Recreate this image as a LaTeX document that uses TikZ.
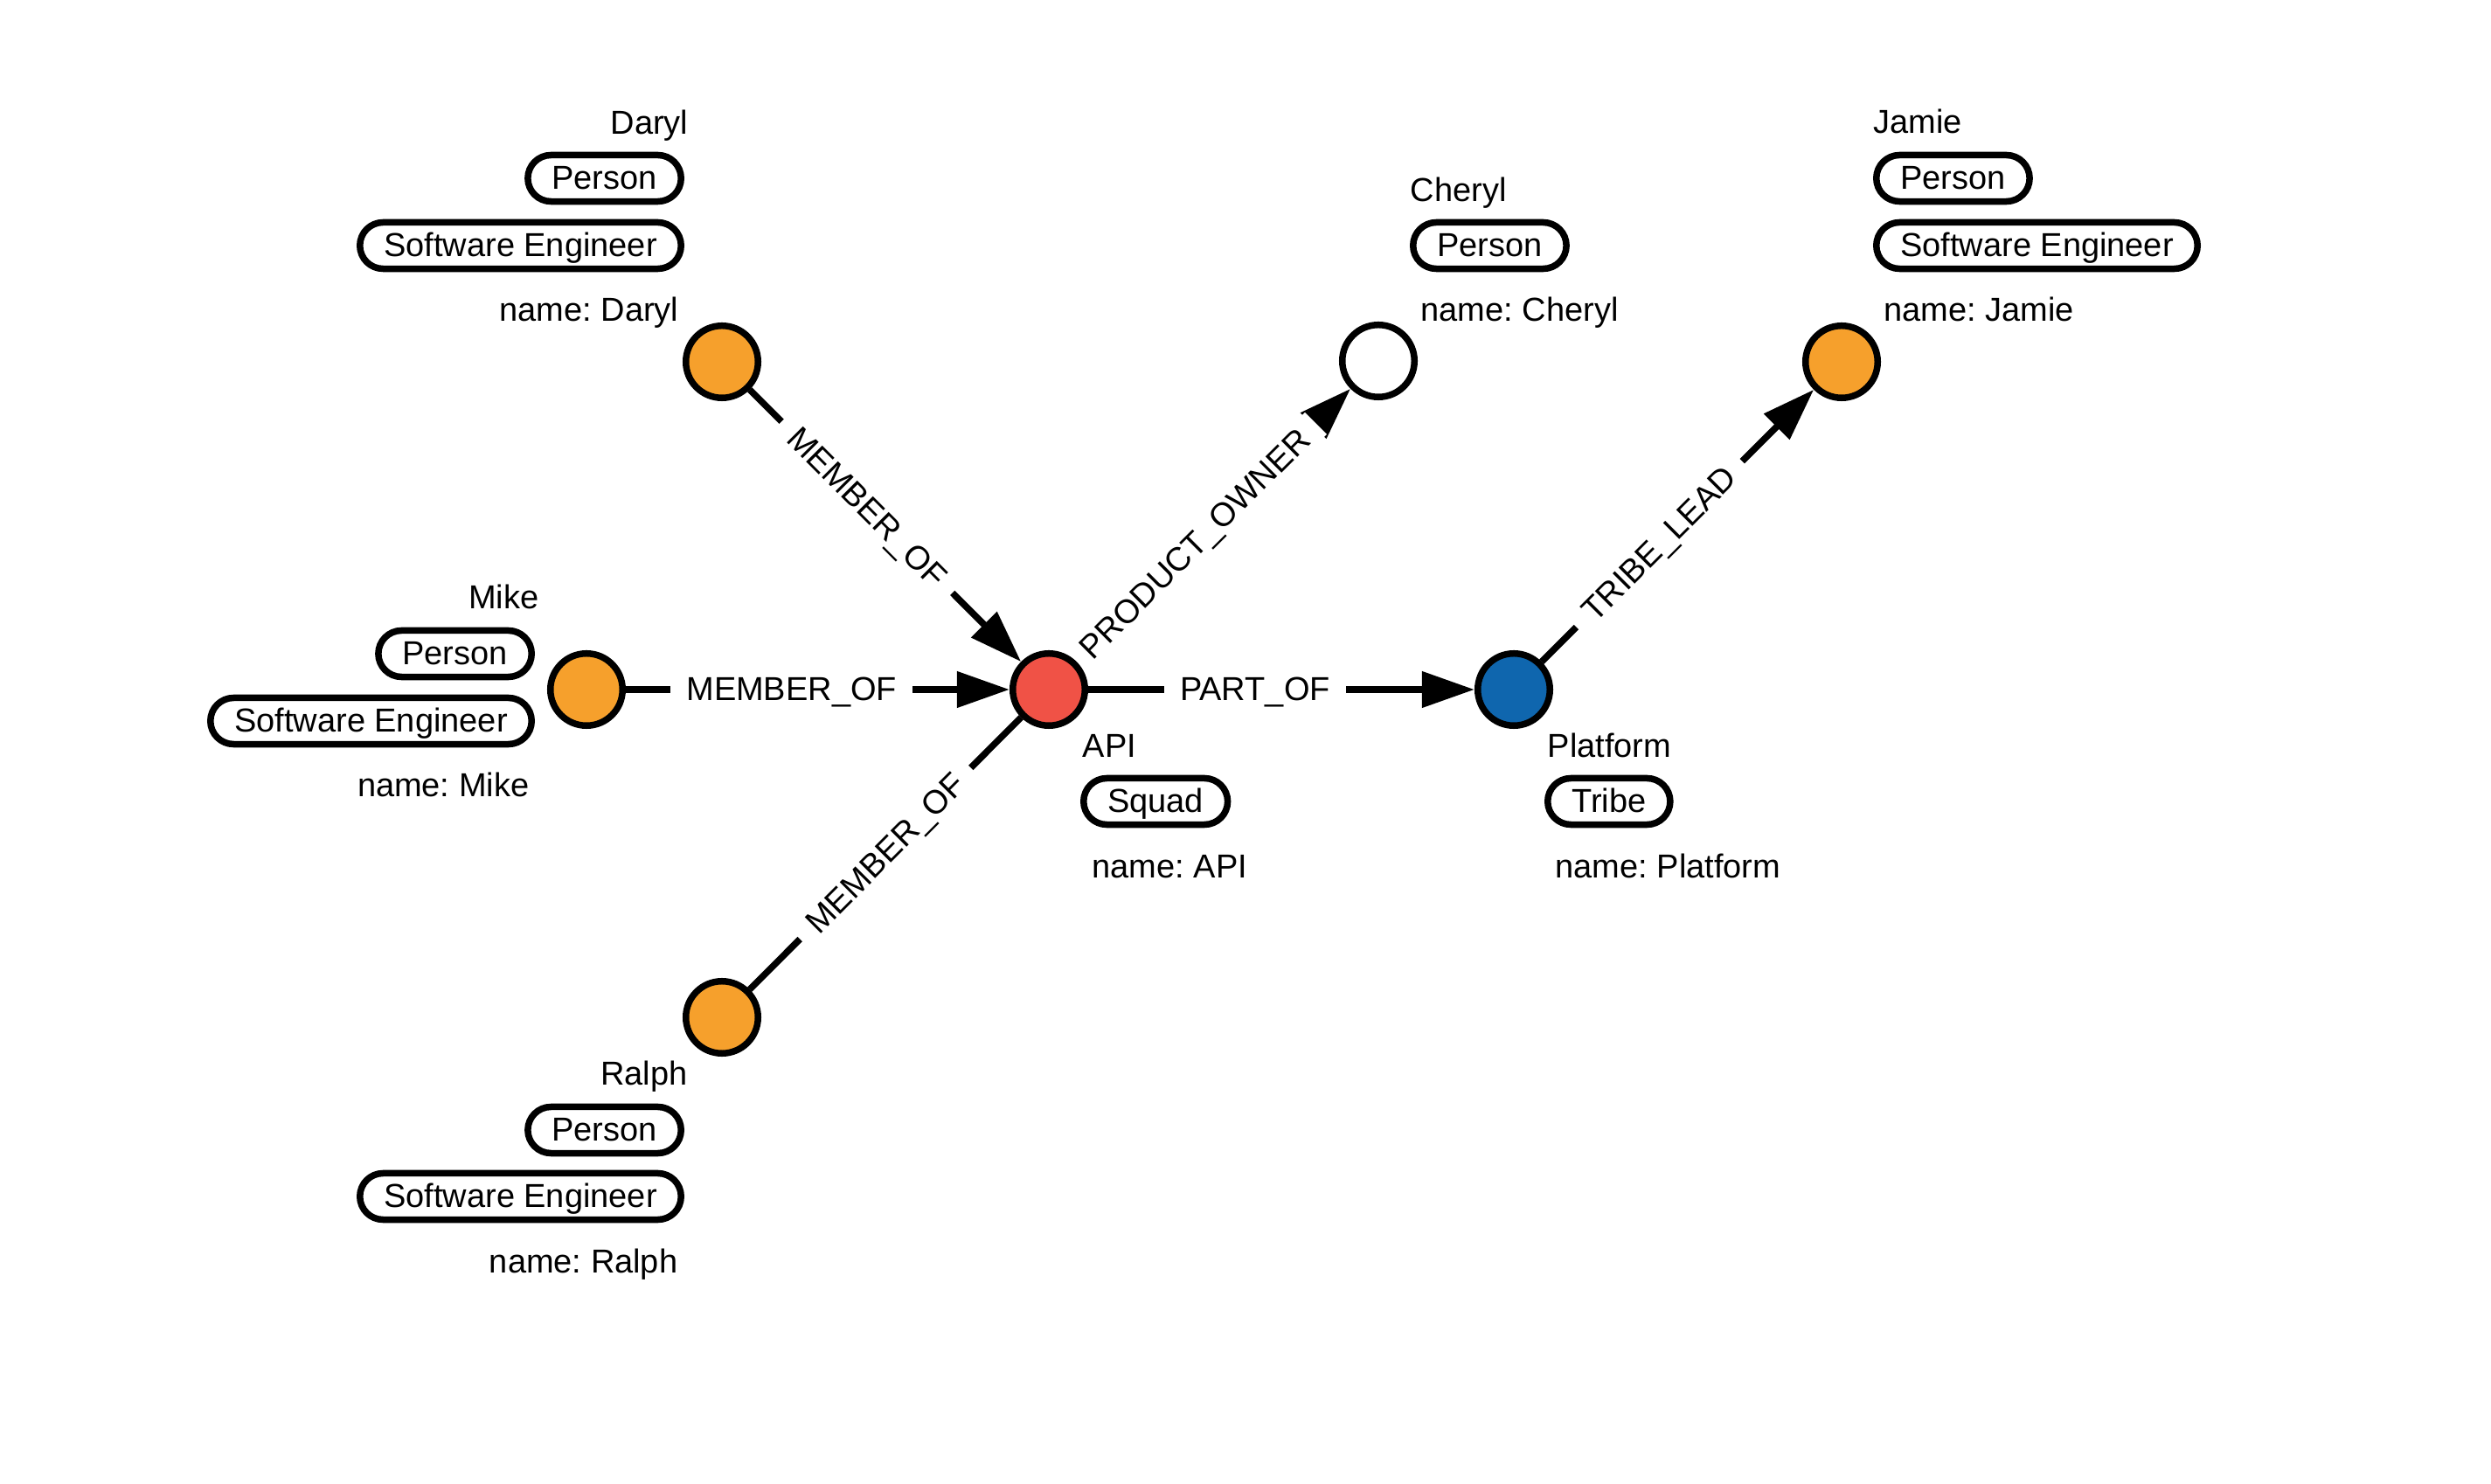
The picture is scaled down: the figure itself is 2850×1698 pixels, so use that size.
\documentclass[tikz,border=0pt]{standalone}
\usepackage{fontspec}
\setmainfont{Liberation Sans}
\usetikzlibrary{arrows.meta,backgrounds}
\definecolor{orangeN}{HTML}{F6A02C}
\definecolor{redN}{HTML}{F05246}
\definecolor{blueN}{HTML}{0F66AE}
\frenchspacing
\begin{document}
\begin{tikzpicture}[x=0.01cm,y=-0.01cm,
  every node/.style={font=\fontsize{10.8}{13}\selectfont},
  gnode/.style={circle,draw=black,line width=0.075cm,minimum size=0.825cm,inner sep=0pt},
  pill/.style={draw=black,line width=0.075cm,rounded corners=0.265cm,minimum height=0.53cm,inner xsep=0.275cm,inner ysep=0pt,text height=0.72em,text depth=0pt,fill=white},
  txt/.style={inner sep=0pt},
  rel/.style={line width=0.075cm,draw=black},
  arr/.style={-{Triangle[length=0.6cm,width=0.4cm]}},
  elabel/.style={fill=white,inner xsep=0.18cm,inner ysep=0.05cm,text height=0.72em,text depth=0pt,sloped}
]
% graph nodes
\node[gnode,fill=orangeN] (daryl) at (826,414) {};
\node[gnode,fill=orangeN] (mike) at (671,789) {};
\node[gnode,fill=orangeN] (ralph) at (826,1164) {};
\node[gnode,fill=white] (cheryl) at (1577,413) {};
\node[gnode,fill=orangeN] (jamie) at (2107,414) {};
\node[gnode,fill=redN] (api) at (1200,789) {};
\node[gnode,fill=blueN] (platform) at (1732,789) {};

% Daryl
\node[txt,anchor=base east] (darylT) at (788,154) {Daryl};
\node[pill,anchor=east] (darylP) at (783,204) {Person};
\node[pill,anchor=east] (darylS) at (783,281) {Software Engineer};
\node[txt,anchor=base east] (darylN) at (777,368) {name: Daryl};
% Mike
\node[txt,anchor=base east] (mikeT) at (617,697) {Mike};
\node[pill,anchor=east] (mikeP) at (612,748) {Person};
\node[pill,anchor=east] (mikeS) at (612,825) {Software Engineer};
\node[txt,anchor=base east] (mikeN) at (606,912) {name: Mike};
% Ralph
\node[txt,anchor=base east] (ralphT) at (787,1242) {Ralph};
\node[pill,anchor=east] (ralphP) at (783,1293) {Person};
\node[pill,anchor=east] (ralphS) at (783,1369) {Software Engineer};
\node[txt,anchor=base east] (ralphN) at (776,1457) {name: Ralph};
% Cheryl
\node[txt,anchor=base west] (cherylT) at (1613,231) {Cheryl};
\node[pill,anchor=west] (cherylP) at (1613,281) {Person};
\node[txt,anchor=base west] (cherylN) at (1625,368) {name: Cheryl};
% Jamie
\node[txt,anchor=base west] (jamieT) at (2143,153) {Jamie};
\node[pill,anchor=west] (jamieP) at (2143,204) {Person};
\node[pill,anchor=west] (jamieS) at (2143,281) {Software Engineer};
\node[txt,anchor=base west] (jamieN) at (2155,368) {name: Jamie};
% API
\node[txt,anchor=base west] (apiT) at (1238,867) {API};
\node[pill,anchor=west] (apiP) at (1236,917) {Squad};
\node[txt,anchor=base west] (apiN) at (1249,1005) {name: API};
% Platform
\node[txt,anchor=base west] (platT) at (1770,867) {Platform};
\node[pill,anchor=west] (platP) at (1767,917) {Tribe};
\node[txt,anchor=base west] (platN) at (1779,1005) {name: Platform};

\begin{pgfonlayer}{background}
\fill[white] (0,0) rectangle (2850,1698);
\draw[rel,arr] (daryl) -- node[elabel,pos=0.432] (l1) {MEMBER\_OF} (api);
\draw[rel,arr] (mike) -- node[elabel,pos=0.432] (l2) {MEMBER\_OF} (api);
\draw[rel] (ralph) -- node[elabel,pos=0.5] (l3) {MEMBER\_OF} (api);
\draw[rel,arr] (api) -- node[elabel,pos=0.432] (l4) {PRODUCT\_OWNER} (cheryl);
\draw[rel,arr] (api) -- node[elabel,pos=0.432] (l5) {PART\_OF} (platform);
\draw[rel,arr] (platform) -- node[elabel,pos=0.432] (l6) {TRIBE\_LEAD} (jamie);
\end{pgfonlayer}
\useasboundingbox (0,0) rectangle (2850,1698);
\end{tikzpicture}
\end{document}
